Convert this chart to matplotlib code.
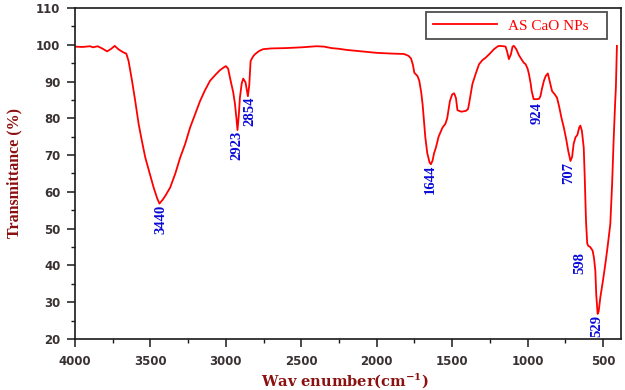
import matplotlib
matplotlib.use("Agg")
import matplotlib.pyplot as plt
from matplotlib.ticker import MultipleLocator

plt.rcParams['mathtext.fontset'] = 'dejavuserif'

wavenumber = [4000, 3950, 3900, 3880, 3850, 3820, 3787, 3760, 3737, 3710, 3678, 3660, 3645, 3622, 3600,
              3578, 3555, 3534, 3505, 3479, 3455, 3440, 3420, 3400, 3369, 3335, 3303, 3270, 3237, 3205,
              3171, 3140, 3105, 3070, 3039, 3015, 3000, 2985, 2970, 2951, 2940, 2930, 2923, 2915, 2907,
              2895, 2885, 2870, 2860, 2854, 2845, 2836, 2820, 2808, 2780, 2753, 2700, 2600, 2500, 2400,
              2350, 2300, 2250, 2200, 2100, 2000, 1900, 1820, 1790, 1773, 1760, 1751, 1730, 1718, 1705,
              1696, 1685, 1678, 1665, 1650, 1641, 1630, 1620, 1608, 1590, 1564, 1545, 1533, 1515, 1500,
              1487, 1475, 1465, 1440, 1410, 1395, 1388, 1366, 1345, 1322, 1300, 1278, 1250, 1223, 1200,
              1190, 1160, 1146, 1135, 1124, 1110, 1100, 1091, 1075, 1058, 1040, 1025, 1013, 1000, 991,
              980, 973, 960, 940, 924, 915, 905, 892, 880, 866, 850, 838, 820, 805, 790,
              775, 760, 745, 730, 716, 705, 695, 683, 670, 658, 650, 640, 628, 622, 613,
              605, 598, 585, 569, 560, 551, 545, 536, 529, 518, 500, 485, 470, 452, 440,
              430, 420, 415, 408]
transmittance = [99.5, 99.4, 99.6, 99.3, 99.6, 99.0, 98.2, 98.9, 99.7, 98.7, 97.9, 97.6, 95.6, 90.2, 84.5,
                 78.4, 73.5, 69.3, 65.0, 61.2, 58.2, 56.8, 57.8, 59.0, 61.2, 65.0, 69.3, 73.0, 77.5, 81.0,
                 84.7, 87.5, 90.2, 91.8, 93.1, 93.8, 94.2, 93.5, 90.5, 87.0, 84.0, 80.0, 76.8, 80.5, 85.6,
                 89.5, 90.8, 89.8, 87.5, 86.0, 89.0, 95.6, 96.8, 97.4, 98.3, 98.8, 99.0, 99.1, 99.3, 99.6,
                 99.5, 99.1, 98.9, 98.6, 98.2, 97.8, 97.6, 97.5, 97.0, 96.3, 94.5, 92.4, 91.5, 90.2, 87.0,
                 83.8, 78.5, 74.8, 70.5, 68.0, 67.5, 68.5, 70.5, 72.0, 75.0, 77.5, 78.5, 80.0, 84.7, 86.5,
                 86.8, 85.5, 82.2, 81.8, 82.0, 82.5, 84.0, 89.3, 92.0, 94.7, 95.8, 96.5, 97.6, 98.8, 99.5,
                 99.7, 99.6, 99.5, 98.0, 96.1, 97.5, 99.5, 99.7, 98.8, 97.2, 96.0, 95.1, 94.7, 93.5, 92.0,
                 89.5, 87.4, 85.2, 85.2, 85.3, 86.0, 88.0, 90.2, 91.5, 92.2, 89.5, 87.4, 86.5, 85.6, 83.0,
                 80.0, 77.5, 74.5, 71.0, 68.4, 69.5, 73.0, 74.8, 75.5, 77.5, 78.0, 76.5, 72.0, 64.8, 52.1,
                 46.0, 45.3, 45.0, 44.0, 42.0, 38.5, 32.0, 26.8, 27.5, 31.3, 36.0, 40.3, 45.0, 51.2, 62.0,
                 73.9, 84.0, 88.3, 99.7]

peak_labels = ["3440", "2923", "2854", "1644", "924", "707", "598", "529"]
peak_x = [3430, 2926, 2840, 1647, 938, 730, 653, 541]
peak_y = [56.5, 76.5, 85.8, 67.5, 84.4, 68.0, 43.7, 26.5]

series_name = "AS CaO NPs"

fig = plt.figure(figsize=(6.25, 3.9), dpi=100)
ax = fig.add_axes([0.12, 0.131, 0.8736, 0.8485])

ax.plot(wavenumber, transmittance, color='#ff0000', lw=1.3, label=series_name)

for lab, x, y in zip(peak_labels, peak_x, peak_y):
    ax.text(x, y, lab, rotation=90, ha='center', va='top', color='#0a0ad8',
            fontsize=10.5, fontweight='bold', family=['Liberation Serif', 'DejaVu Serif'])

ax.set_xlim(4000, 381)
ax.set_ylim(20, 110)
ax.xaxis.set_major_locator(MultipleLocator(500))
ax.xaxis.set_minor_locator(MultipleLocator(250))
ax.yaxis.set_major_locator(MultipleLocator(10))
ax.yaxis.set_minor_locator(MultipleLocator(5))

spine_col = '#1a1a1a'
for s in ax.spines.values():
    s.set_color(spine_col)
    s.set_linewidth(1.2)

ax.tick_params(which='major', direction='out', length=5.5, width=1.1, color=spine_col,
               labelsize=8.5, labelcolor='#3a3232')
ax.tick_params(axis='x', which='major', pad=6)
ax.tick_params(axis='y', which='major', pad=5)
ax.tick_params(which='minor', direction='out', length=3, width=1.0, color=spine_col)
for lbl in ax.get_xticklabels() + ax.get_yticklabels():
    lbl.set_fontweight('bold')
    lbl.set_family('DejaVu Sans')

label_col = '#8b1010'
ax.set_ylabel('Transmittance (%)', color=label_col, fontsize=11.5, fontweight='bold',
              family=['Liberation Serif', 'DejaVu Serif'], labelpad=10)
ax.set_xlabel(r'Wav enumber(cm$^{\mathbf{-1}}$)', color=label_col, fontsize=10.5, fontweight='bold',
              family=['DejaVu Serif'])
ax.xaxis.set_label_coords(0.495, -0.126)
ax.xaxis.label.set_va('center')

leg = ax.legend(loc='upper right', bbox_to_anchor=(0.974, 0.988), borderaxespad=0.0,
                frameon=True, fancybox=False,
                edgecolor='#222222', handlelength=4.2, handletextpad=0.7, borderpad=0.45,
                prop={'family': 'Liberation Serif', 'size': 11})
leg.get_frame().set_linewidth(1.3)
for t in leg.get_texts():
    t.set_color('#ff0000')
    t.set_text(series_name + '   ')

fig.savefig('out.png', dpi=100)
